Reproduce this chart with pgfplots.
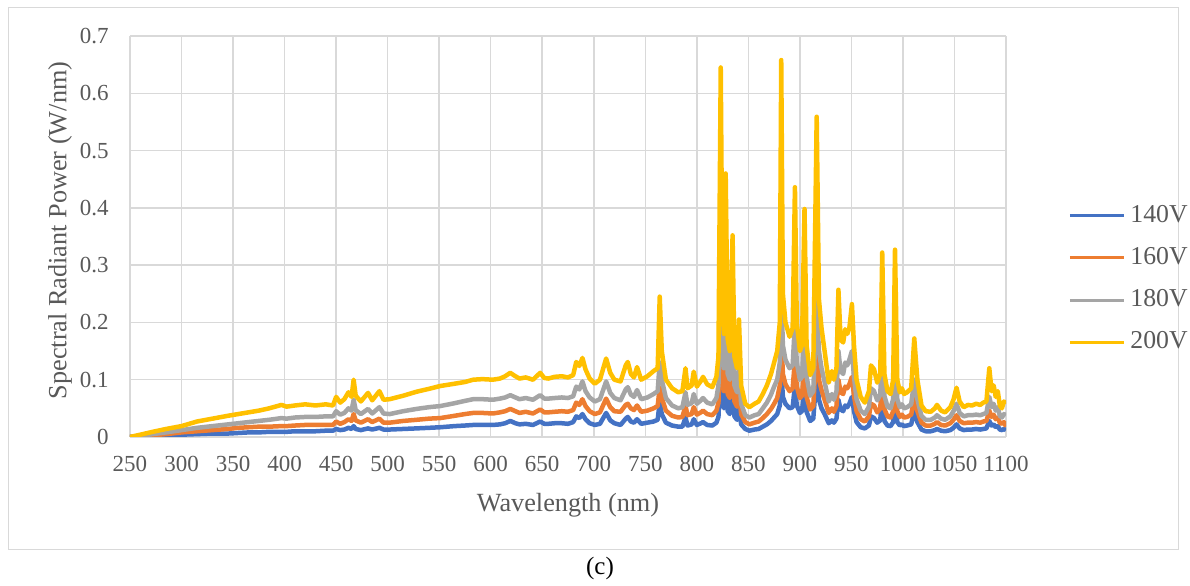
\documentclass[border=0pt]{standalone}
\usepackage{pgfplots}
\pgfplotsset{compat=1.18}
\usepackage{pgfplotstable}
\usepackage{fontspec}
\setmainfont{Liberation Serif}
\definecolor{cblue}{HTML}{4472C4}
\definecolor{corange}{HTML}{ED7D31}
\definecolor{cgray}{HTML}{A5A5A5}
\definecolor{cyellow}{HTML}{FFC000}
\definecolor{gridc}{HTML}{D9D9D9}
\definecolor{txt}{HTML}{595959}
\pgfplotstableread{
x a b c d
250 0 0 0 0
260 0.0005 0.001 0.002 0.004
272 0.002 0.003 0.005 0.009
285 0.003 0.005 0.008 0.014
300 0.004 0.008 0.012 0.019
315 0.005 0.010 0.016 0.027
330 0.006 0.012 0.019 0.032
345 0.006 0.014 0.022 0.037
355 0.007 0.016 0.024 0.040
365 0.008 0.017 0.026 0.043
375 0.008 0.018 0.028 0.046
385 0.009 0.018 0.030 0.050
397 0.009 0.019 0.033 0.056
402 0.009 0.019 0.032 0.053
410 0.010 0.020 0.034 0.055
420 0.010 0.021 0.035 0.057
430 0.010 0.021 0.035 0.055
440 0.011 0.021 0.036 0.057
447 0.011 0.021 0.036 0.055
450 0.014 0.027 0.045 0.070
454 0.012 0.023 0.039 0.060
458 0.013 0.026 0.042 0.066
462 0.016 0.031 0.050 0.078
465 0.014 0.028 0.046 0.070
467 0.019 0.040 0.065 0.100
469 0.014 0.029 0.047 0.072
474 0.012 0.025 0.040 0.062
481 0.015 0.031 0.049 0.077
485 0.013 0.026 0.041 0.064
492 0.016 0.032 0.052 0.080
496 0.013 0.025 0.041 0.065
502 0.013 0.025 0.040 0.066
515 0.014 0.028 0.045 0.072
528 0.015 0.030 0.049 0.079
540 0.016 0.032 0.052 0.084
551 0.017 0.033 0.054 0.089
565 0.019 0.037 0.059 0.093
575 0.020 0.040 0.063 0.096
583 0.021 0.042 0.066 0.100
592 0.021 0.042 0.066 0.101
602 0.021 0.041 0.065 0.100
609 0.022 0.043 0.067 0.102
614 0.024 0.045 0.069 0.106
619 0.028 0.049 0.073 0.112
624 0.024 0.045 0.069 0.106
628 0.022 0.042 0.066 0.102
634 0.023 0.044 0.068 0.104
641 0.021 0.041 0.065 0.100
648 0.027 0.048 0.073 0.112
652 0.023 0.043 0.067 0.103
656 0.023 0.043 0.067 0.102
662 0.024 0.044 0.068 0.105
669 0.024 0.045 0.069 0.106
675 0.023 0.044 0.068 0.104
680 0.026 0.047 0.071 0.108
683 0.036 0.060 0.088 0.131
686 0.033 0.056 0.083 0.124
689 0.040 0.066 0.097 0.138
692 0.031 0.054 0.080 0.118
696 0.024 0.045 0.069 0.102
701 0.021 0.040 0.062 0.093
706 0.023 0.043 0.066 0.100
712 0.042 0.067 0.097 0.137
716 0.029 0.052 0.077 0.112
720 0.024 0.045 0.068 0.100
726 0.021 0.044 0.064 0.097
731 0.032 0.056 0.083 0.125
733 0.035 0.058 0.087 0.131
736 0.027 0.050 0.074 0.110
739 0.025 0.047 0.070 0.104
742 0.031 0.055 0.082 0.122
746 0.023 0.044 0.066 0.100
752 0.025 0.046 0.069 0.106
758 0.027 0.050 0.075 0.115
762 0.030 0.054 0.080 0.120
764 0.061 0.087 0.130 0.245
766 0.040 0.068 0.100 0.150
770 0.025 0.046 0.068 0.100
776 0.020 0.037 0.055 0.085
782 0.018 0.034 0.050 0.078
786 0.018 0.035 0.052 0.080
789 0.034 0.054 0.078 0.120
791 0.020 0.038 0.056 0.085
795 0.022 0.040 0.059 0.090
797 0.031 0.052 0.075 0.114
800 0.021 0.039 0.058 0.088
804 0.024 0.043 0.064 0.098
806 0.026 0.046 0.068 0.105
810 0.021 0.040 0.060 0.092
815 0.020 0.038 0.057 0.087
819 0.025 0.046 0.068 0.105
821 0.035 0.060 0.090 0.140
823.2 0.130 0.190 0.275 0.645
825 0.060 0.095 0.140 0.220
826.3 0.050 0.080 0.120 0.180
828 0.100 0.145 0.210 0.460
830 0.045 0.075 0.110 0.170
832 0.040 0.068 0.100 0.150
834.7 0.080 0.115 0.170 0.352
836.5 0.036 0.062 0.090 0.140
839 0.030 0.053 0.078 0.120
840.9 0.052 0.080 0.120 0.205
843 0.022 0.040 0.058 0.090
847 0.014 0.026 0.038 0.058
851 0.011 0.022 0.034 0.052
856 0.013 0.025 0.038 0.058
860 0.014 0.027 0.040 0.062
864 0.018 0.033 0.050 0.075
868 0.022 0.040 0.060 0.090
872 0.028 0.049 0.074 0.110
875 0.034 0.058 0.088 0.130
878 0.040 0.068 0.100 0.150
880.5 0.055 0.090 0.130 0.200
881.9 0.120 0.180 0.260 0.658
883.5 0.070 0.110 0.160 0.250
886 0.058 0.092 0.135 0.200
890 0.050 0.080 0.120 0.175
893 0.052 0.085 0.125 0.190
895.2 0.090 0.135 0.200 0.436
897 0.055 0.088 0.130 0.200
900 0.042 0.068 0.100 0.150
902 0.045 0.072 0.105 0.160
904.5 0.085 0.128 0.190 0.398
906.5 0.044 0.070 0.105 0.160
910 0.028 0.048 0.072 0.108
913 0.032 0.054 0.080 0.120
916.3 0.110 0.160 0.235 0.559
918.5 0.065 0.100 0.150 0.240
921 0.050 0.082 0.120 0.190
924 0.040 0.065 0.096 0.150
928 0.024 0.042 0.062 0.095
931 0.029 0.050 0.075 0.115
933 0.025 0.044 0.065 0.100
935.5 0.032 0.054 0.080 0.120
937.4 0.065 0.100 0.150 0.257
939.5 0.048 0.078 0.115 0.170
942 0.045 0.075 0.110 0.165
944 0.055 0.088 0.130 0.188
946 0.052 0.085 0.125 0.180
948 0.058 0.092 0.135 0.190
950.5 0.070 0.105 0.150 0.232
952.5 0.045 0.072 0.105 0.160
955 0.026 0.045 0.066 0.100
959 0.017 0.031 0.046 0.070
963 0.015 0.027 0.040 0.060
967 0.020 0.036 0.053 0.080
969 0.036 0.058 0.085 0.125
972 0.033 0.055 0.080 0.118
975 0.025 0.043 0.064 0.095
978 0.029 0.050 0.074 0.110
979.9 0.075 0.108 0.160 0.322
982 0.028 0.049 0.072 0.110
985 0.020 0.036 0.053 0.080
988 0.019 0.034 0.050 0.075
990.5 0.026 0.045 0.066 0.100
992.3 0.075 0.108 0.160 0.327
994.5 0.026 0.045 0.066 0.100
997 0.020 0.035 0.052 0.078
999 0.022 0.039 0.057 0.085
1001 0.019 0.034 0.050 0.075
1004 0.020 0.035 0.052 0.078
1008 0.022 0.039 0.057 0.085
1011 0.045 0.068 0.100 0.172
1014 0.026 0.045 0.066 0.100
1018 0.013 0.025 0.037 0.055
1022 0.010 0.020 0.030 0.045
1027 0.010 0.020 0.030 0.044
1031 0.012 0.023 0.034 0.050
1033 0.014 0.026 0.038 0.056
1037 0.011 0.021 0.032 0.046
1041 0.010 0.020 0.030 0.043
1046 0.012 0.024 0.036 0.052
1049 0.016 0.030 0.045 0.065
1052 0.022 0.038 0.058 0.086
1055 0.015 0.028 0.042 0.062
1059 0.012 0.024 0.036 0.052
1063 0.013 0.025 0.038 0.056
1067 0.013 0.025 0.038 0.055
1071 0.014 0.026 0.039 0.058
1075 0.013 0.025 0.038 0.056
1078 0.014 0.027 0.040 0.060
1081 0.015 0.028 0.042 0.062
1083.8 0.028 0.046 0.070 0.120
1086 0.020 0.035 0.052 0.080
1088 0.022 0.039 0.058 0.090
1090 0.017 0.031 0.046 0.070
1092 0.019 0.034 0.052 0.080
1094 0.013 0.025 0.037 0.055
1096 0.012 0.023 0.034 0.050
1098 0.014 0.026 0.040 0.062
1100 0.012 0.018 0.038 0.058
}\spec
\begin{document}
\begin{tikzpicture}
\path[use as bounding box] (0,0) rectangle (476pt,234.4pt);
\draw[gridc, line width=0.4pt] (3.2pt,14.4pt) rectangle (471.2pt,231.2pt);
\node[font=\fontsize{10}{12}\selectfont, text=black] at (240pt,7.2pt) {(c)};
\begin{axis}[
  at={(52pt,59.6pt)}, anchor=south west,
  scale only axis, width=350.4pt, height=160.4pt,
  xmin=250, xmax=1100, ymin=0, ymax=0.7,
  xtick={250,300,...,1100}, ytick={0,0.1,...,0.7},
  grid=major, major grid style={draw=gridc, line width=0.6pt},
  axis line style={draw=none}, major tick length=0pt,
  /pgf/number format/assume math mode=true,
  /pgf/number format/1000 sep={},
  yticklabel style={/pgf/number format/fixed, /pgf/number format/precision=1, font=\fontsize{9.2}{11}\selectfont, text=txt, xshift=-5pt},
  xticklabel style={font=\fontsize{9.2}{11}\selectfont, text=txt, anchor=center, yshift=-10.6pt},
  xlabel={Wavelength (nm)},
  ylabel={Spectral Radiant Power (W/nm)},
  xlabel style={font=\fontsize{10.5}{12}\selectfont, text=txt, at={(axis description cs:0.5,0)}, anchor=center, yshift=-27.2pt},
  ylabel style={font=\fontsize{10.5}{12}\selectfont, text=txt, at={(axis description cs:0,0.515)}, anchor=center, yshift=28pt},
  legend style={draw=none, fill=none, at={(1.062,0.394)}, anchor=west, font=\fontsize{10.3}{12}\selectfont, text=txt, row sep=4.5pt},
  legend cell align=left,
  legend image code/.code={\draw[#1, line width=1.2pt] (0cm,0cm) -- (0.76cm,0cm);},
  every axis plot/.append style={line width=1.8pt, line join=round},
]
\addplot[cblue, no marks] table[x=x, y=a] {\spec};
\addlegendentry{140V}
\addplot[corange, no marks] table[x=x, y=b] {\spec};
\addlegendentry{160V}
\addplot[cgray, no marks] table[x=x, y=c] {\spec};
\addlegendentry{180V}
\addplot[cyellow, no marks] table[x=x, y=d] {\spec};
\addlegendentry{200V}
\end{axis}
\end{tikzpicture}
\end{document}
